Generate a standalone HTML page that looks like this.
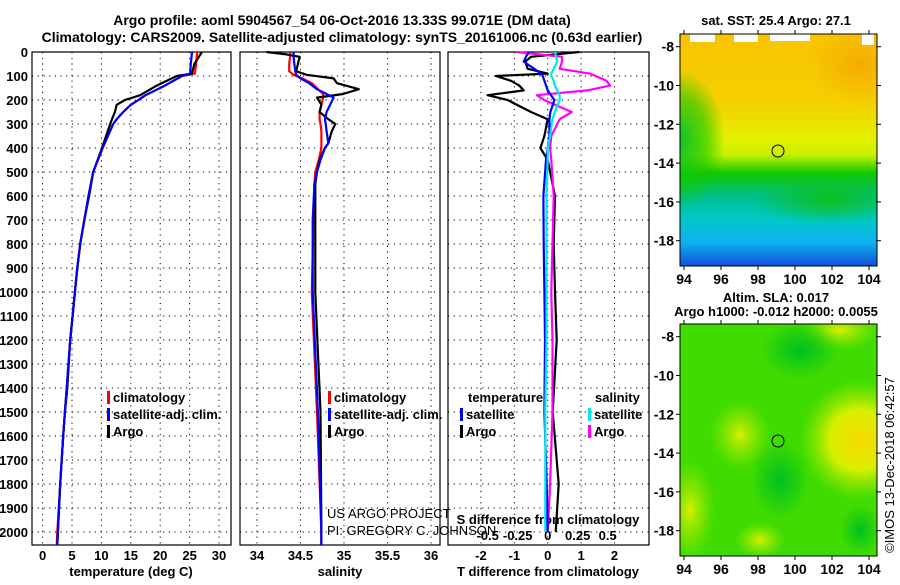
<!DOCTYPE html>
<html><head><meta charset="utf-8"><style>
body{margin:0;background:#fff}
svg text{font-family:"Liberation Sans",sans-serif;font-weight:bold;font-size:13px;fill:#000}
.t{font-size:14px}
.thin{font-weight:normal;font-size:13px}
</style></head><body>
<svg id="fig" width="900" height="580" viewBox="0 0 900 580" xmlns="http://www.w3.org/2000/svg">
<defs>
<linearGradient id="sstg" x1="0" y1="0" x2="0" y2="1">
<stop offset="0" stop-color="#f8c400"/><stop offset="0.3" stop-color="#f4d000"/><stop offset="0.45" stop-color="#e4f000"/><stop offset="0.52" stop-color="#c8f000"/><stop offset="0.6" stop-color="#10c800"/><stop offset="0.7" stop-color="#00c090"/><stop offset="0.8" stop-color="#00c8c8"/><stop offset="0.9" stop-color="#10b0f0"/><stop offset="1" stop-color="#1050d8"/>
</linearGradient>
<radialGradient id="lg"><stop offset="0" stop-color="#00c030" stop-opacity="0.95"/><stop offset="0.6" stop-color="#10c800" stop-opacity="0.6"/><stop offset="1" stop-color="#10c800" stop-opacity="0"/></radialGradient>
<radialGradient id="gband"><stop offset="0" stop-color="#10c000" stop-opacity="0.8"/><stop offset="1" stop-color="#10c000" stop-opacity="0"/></radialGradient>
<radialGradient id="orb"><stop offset="0" stop-color="#f4a000" stop-opacity="0.7"/><stop offset="1" stop-color="#f4a000" stop-opacity="0"/></radialGradient>
<radialGradient id="yb"><stop offset="0" stop-color="#d8f000"/><stop offset="1" stop-color="#a0e800" stop-opacity="0"/></radialGradient>
<radialGradient id="ob"><stop offset="0" stop-color="#f8d800"/><stop offset="0.5" stop-color="#d8f000"/><stop offset="1" stop-color="#a0e800" stop-opacity="0"/></radialGradient>
<radialGradient id="gb"><stop offset="0" stop-color="#00c020"/><stop offset="1" stop-color="#00c020" stop-opacity="0"/></radialGradient>
<clipPath id="m1"><rect x="680" y="34" width="197" height="232"/></clipPath>
<clipPath id="m2"><rect x="680" y="324" width="197" height="232"/></clipPath>
</defs>
<text class="t" x="342" y="25" text-anchor="middle">Argo profile: aoml 5904567_54 06-Oct-2016 13.33S 99.071E (DM data)</text>
<text class="t" x="342" y="42" text-anchor="middle">Climatology: CARS2009. Satellite-adjusted climatology: synTS_20161006.nc (0.63d earlier)</text>
<g id="plots"></g>

<g>
<text x="776" y="25" text-anchor="middle">sat. SST: 25.4 Argo: 27.1</text>
<g clip-path="url(#m1)">
<rect x="680" y="34" width="197" height="232" fill="url(#sstg)"/>
<ellipse cx="680" cy="140" rx="45" ry="70" fill="url(#lg)"/>
<ellipse cx="830" cy="200" rx="80" ry="25" fill="url(#gband)"/>
<ellipse cx="860" cy="65" rx="50" ry="40" fill="url(#orb)"/>
<rect x="690" y="34" width="25" height="8" fill="#fff"/><rect x="734" y="34" width="24" height="8" fill="#fff"/><rect x="770" y="34" width="40" height="7" fill="#fff"/><rect x="862" y="34" width="12" height="11" fill="#fff"/>
</g>
<rect x="680" y="34" width="197" height="232" fill="none" stroke="#000"/>
<circle cx="778" cy="151" r="6" fill="none" stroke="#000"/>
</g>
<g>
<text x="776" y="302" text-anchor="middle">Altim. SLA: 0.017</text>
<text x="776" y="316" text-anchor="middle">Argo h1000: -0.012 h2000: 0.0055</text>
<g clip-path="url(#m2)">
<rect x="680" y="324" width="197" height="232" fill="#40dc00"/>
<ellipse cx="740" cy="435" rx="30" ry="35" fill="url(#yb)"/>
<ellipse cx="860" cy="440" rx="60" ry="60" fill="url(#ob)"/>
<ellipse cx="690" cy="510" rx="25" ry="50" fill="url(#yb)"/>
<ellipse cx="760" cy="540" rx="25" ry="18" fill="url(#yb)"/>
<ellipse cx="840" cy="330" rx="40" ry="20" fill="url(#yb)"/>
<ellipse cx="800" cy="350" rx="40" ry="30" fill="url(#gb)"/>
<ellipse cx="780" cy="480" rx="30" ry="40" fill="url(#gb)"/>
<ellipse cx="860" cy="530" rx="20" ry="25" fill="url(#gb)"/>
</g>
<rect x="680" y="324" width="197" height="232" fill="none" stroke="#000"/>
<circle cx="778" cy="441" r="6" fill="none" stroke="#000"/>
</g>
<g id="mapaxes"></g>
<text class="thin" transform="translate(894,465) rotate(-90)" text-anchor="middle">©IMOS 13-Dec-2018 06:42:57</text>
<text class="thin" x="327" y="518">US ARGO PROJECT</text>
<text class="thin" x="327" y="535">PI: GREGORY C. JOHNSON</text>
</svg>
<script>
const tDepth = [0,50,90,100,140,180,200,220,250,280,300,400,500,600,700,800,900,1000,1100,1200,1400,1500,1600,1800,2000,2054];
const tArgo  = [27.1,25.8,25.4,22.8,19.4,16.6,14.0,12.6,12.3,11.8,11.5,10.1,8.6,7.9,7.1,6.4,5.9,5.5,5.1,4.7,4.2,3.8,3.5,3.0,2.6,2.5];
const tClim  = [26.3,26.1,25.9,23.7,20.8,17.5,16.3,15.0,13.7,12.6,12.0,10.2,8.6,7.8,7.1,6.4,5.9,5.5,5.1,4.7,4.1,3.8,3.5,3.0,2.5,2.4];
const tSat   = [25.4,25.2,25.1,23.7,20.8,17.5,16.3,15.0,13.7,12.6,12.0,10.2,8.6,7.8,7.1,6.4,5.9,5.5,5.1,4.7,4.1,3.8,3.5,3.0,2.6,2.5];
const sDepth = [0,10,20,50,80,95,110,130,155,175,190,220,250,280,300,330,380,400,450,500,550,700,1000,1500,2000,2054];
const sArgo  = [34.11,34.34,34.49,34.47,34.45,34.57,34.88,34.92,35.17,34.99,34.69,34.74,34.72,34.82,34.90,34.86,34.82,34.78,34.72,34.69,34.67,34.67,34.67,34.73,34.74,34.74];
const sClim  = [34.38,34.38,34.38,34.37,34.37,34.42,34.52,34.63,34.70,34.76,34.76,34.74,34.72,34.72,34.73,34.74,34.74,34.74,34.71,34.67,34.66,34.65,34.63,34.69,34.74,34.74];
const sSat   = [34.42,34.42,34.42,34.43,34.44,34.45,34.50,34.60,34.69,34.80,34.88,34.84,34.80,34.78,34.79,34.80,34.82,34.78,34.73,34.69,34.66,34.64,34.64,34.70,34.74,34.74];
const dDepth = [0,20,40,70,90,100,120,140,160,180,200,250,280,350,400,450,600,800,1000,1200,1500,1800,2000];
const dTArgo = [0.95,-0.5,-0.67,-0.6,0,-1.55,-1.1,-0.85,-0.72,-1.8,-1.2,-0.5,0,-0.1,-0.22,0,0.22,0.18,0.22,0.27,0.15,0.33,0.24];
const dTSat  = [-0.57,-0.65,-0.72,-0.4,-0.2,-0.15,-0.1,-0.05,0,0.1,0.2,0.08,0.05,0.05,0,-0.05,-0.13,-0.12,-0.1,-0.08,-0.1,-0.03,0];
const dSArgo = [-0.26,0.12,0.12,0.1,0.35,0.4,0.49,0.52,0.33,-0.09,-0.03,0.2,0.1,0.03,0.02,0.03,0.05,0.04,0.03,0.04,0.04,0.02,0];
const dSSat  = [0.06,0.07,0.08,0.05,0.03,0.03,0.05,0.06,0.08,0.1,0.1,0.06,0.04,0.02,0,0,-0.01,-0.01,-0.01,-0.01,-0.02,-0.02,-0.02];
const depthTicks = [0,100,200,300,400,500,600,700,800,900,1000,1100,1200,1300,1400,1500,1600,1700,1800,1900,2000];
const tTicks = [0,5,10,15,20,25,30];
const sTicks = [34,34.5,35,35.5,36];
const sTickLabels = ['34','34.5','35','35.5','36'];
const dTTicks = [-2,-1,0,1,2];
const dSTicks = [-0.5,-0.25,0,0.25,0.5];
const dSTickLabels = ['-0.5','-0.25','0','0.25','0.5'];
const lonTicks = [94,96,98,100,102,104];
const latTicks = [-8,-10,-12,-14,-16,-18];

const yD = d => 52 + 0.24*d;
const xT = t => 42.6 + 5.88*t;
const xS = s => 257 + 87*(s-34);
const xDT = v => 547.7 + 33.4*v;
const xDS = v => 547.7 + 120*v;
const NS='http://www.w3.org/2000/svg';
const g=document.getElementById('plots');
function mk(tag,at,parent){const e=document.createElementNS(NS,tag);for(const k in at)e.setAttribute(k,at[k]);(parent||g).appendChild(e);return e;}
function txt(s,at,parent){const e=mk('text',at,parent);e.textContent=s;return e;}

const panels=[{x0:32,x1:231,name:'temperature'},{x0:240,x1:440,name:'salinity'},{x0:448,x1:649,name:'difference'}];
const vgrid=[tTicks.map(xT),sTicks.map(xS),dTTicks.map(xDT)];
panels.forEach((p,i)=>{
  vgrid[i].forEach(x=>{const l=mk('line',{x1:x,x2:x,y1:52,y2:545,stroke:'#000','stroke-dasharray':'1.2,4.5','stroke-width':1});
    
    
  });
  depthTicks.forEach(d=>{const l=mk('line',{x1:p.x0,x2:p.x1,y1:yD(d),y2:yD(d),stroke:'#000','stroke-dasharray':'1.2,4.5','stroke-width':1});
    
    
  });
  const r=mk('rect',{x:p.x0,y:52,width:p.x1-p.x0,height:493,fill:'none',stroke:'#000','stroke-width':1.2});
  
  
});
depthTicks.forEach(d=>{const t=txt(String(d),{x:28,y:yD(d)+5,'text-anchor':'end'});
  
  
});
function ticks(vals,labels,sc,y,nm){vals.forEach((v,i)=>{const t=txt(labels?labels[i]:String(v),{x:sc(v),y:y,'text-anchor':'middle'});
  
  });}
ticks(tTicks,null,xT,560,'temperature-tick-label');
ticks(sTicks,sTickLabels,xS,560,'salinity-tick-label');
ticks(dTTicks,null,xDT,560,'t-difference-tick-label');
ticks(dSTicks,dSTickLabels,xDS,540,'s-difference-tick-label');
[['temperature (deg C)',131,'temperature-axis-title'],['salinity',340,'salinity-axis-title'],['T difference from climatology',548,'t-difference-axis-title']].forEach(a=>{
  const t=txt(a[0],{x:a[1],y:576,'text-anchor':'middle'});
  
  });
{const t=txt('S difference from climatology',{x:548,y:524,'text-anchor':'middle'});
  
  }

function line(xs,ds,sx,color,nm){
  const pts=xs.map((v,i)=>sx(v).toFixed(1)+','+yD(ds[i]).toFixed(1)).join(' ');
  const l=mk('polyline',{points:pts,fill:'none',stroke:color,'stroke-width':2.2,'stroke-linejoin':'round'});
  
  
}
line(tClim,tDepth,xT,'#ff0000','temperature-climatology-line');
line(tArgo,tDepth,xT,'#000000','temperature-argo-line');
line(tSat,tDepth,xT,'#0000ff','temperature-satellite-line');
line(sClim,sDepth,xS,'#ff0000','salinity-climatology-line');
line(sArgo,sDepth,xS,'#000000','salinity-argo-line');
line(sSat,sDepth,xS,'#0000ff','salinity-satellite-line');
line(dTArgo,dDepth,xDT,'#000000','t-difference-argo-line');
line(dSArgo,dDepth,xDS,'#ff00ff','s-difference-argo-line');
line(dTSat,dDepth,xDT,'#0000ff','t-difference-satellite-line');
line(dSSat,dDepth,xDS,'#00e8e8','s-difference-satellite-line');

function leg(x,y,color,label,nm){
  const b=mk('rect',{x:x,y:y-11,width:3,height:13,fill:color});
  
  
  const t=txt(label,{x:x+6,y:y});
  
  
}
leg(107,402,'#ff0000','climatology','legend-temperature-climatology');
leg(107,419,'#0000ff','satellite-adj. clim.','legend-temperature-satellite');
leg(107,436,'#000000','Argo','legend-temperature-argo');
leg(328,402,'#ff0000','climatology','legend-salinity-climatology');
leg(328,419,'#0000ff','satellite-adj. clim.','legend-salinity-satellite');
leg(328,436,'#000000','Argo','legend-salinity-argo');
{const t=txt('temperature',{x:468,y:402});}
{const t=txt('salinity',{x:595,y:402});}
leg(460,419,'#0000ff','satellite','legend-t-diff-satellite');
leg(460,436,'#000000','Argo','legend-t-diff-argo');
leg(588,419,'#00e8e8','satellite','legend-s-diff-satellite');
leg(588,436,'#ff00ff','Argo','legend-s-diff-argo');

const ma=document.getElementById('mapaxes');
const xLon=l=>684+18.5*(l-94);
[[46.7,279,34,266],[336.7,569,324,556]].forEach((m,mi)=>{
  const yLat=l=>m[0]+19.4*(-8-l);
  lonTicks.forEach(l=>{const t=txt(String(l),{x:xLon(l),y:m[1]+5,'text-anchor':'middle',style:'font-size:14px'},ma);
    
    
    mk('line',{x1:xLon(l),x2:xLon(l),y1:m[3],y2:m[3]+4,stroke:'#000'},ma);
    mk('line',{x1:xLon(l),x2:xLon(l),y1:m[2],y2:m[2]-4,stroke:'#000'},ma);});
  latTicks.forEach(l=>{const t=txt(String(l),{x:674,y:yLat(l)+5,'text-anchor':'end',style:'font-size:14px'},ma);
    
    
    mk('line',{x1:876,x2:881,y1:yLat(l),y2:yLat(l),stroke:'#000'},ma);
    mk('line',{x1:676,x2:680,y1:yLat(l),y2:yLat(l),stroke:'#000'},ma);});
});
</script>
</body></html>
